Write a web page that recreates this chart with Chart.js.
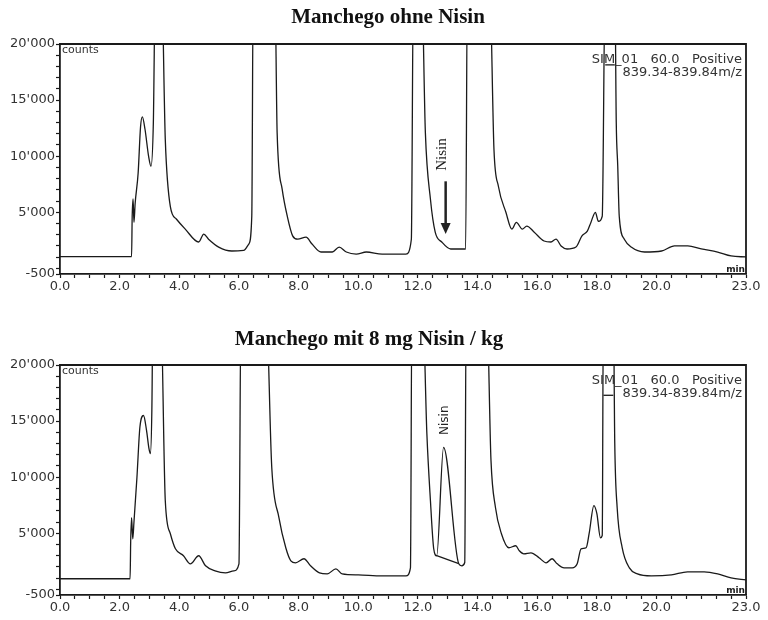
<!DOCTYPE html>
<html>
<head>
<meta charset="utf-8">
<script src="https://cdn.jsdelivr.net/npm/chart.js@4.4.1/dist/chart.umd.min.js"></script>
<style>
  body { margin: 0; background: #fff; width: 768px; height: 620px; position: relative; overflow: hidden; }
  canvas { position: absolute; left: 0; }
  #ohne { top: 0; }
  #mit { top: 321px; }
  .title { position: absolute; left: 0; font: bold 21px "Liberation Serif", serif; color: #111; text-align: center; white-space: nowrap; }
</style>
</head>
<body>
<canvas id="ohne" width="768" height="300"></canvas>
<canvas id="mit" width="768" height="300"></canvas>
<div class="title" style="width:776px;top:4px">Manchego ohne Nisin</div>
<div class="title" style="width:738px;top:326px">Manchego mit 8 mg Nisin / kg</div>
<script>
  // axes
  const xTickValues = [0, 2, 4, 6, 8, 10, 12, 14, 16, 18, 20, 23];
  const yTickValues = [-500, 5000, 10000, 15000, 20000];
  const yTickLabels = ['-500', "5'000", "10'000", "15'000", "20'000"];

  // Manchego ohne Nisin (time in min, counts); off-scale peaks noted as 26000
  const ohneTime = [0, 2.40, 2.42, 2.45, 2.48, 2.52, 2.62, 2.70, 2.76, 2.85, 2.97, 3.05, 3.13, 3.20, 3.40, 3.53, 3.70, 3.90, 4.20, 4.65,
    4.82, 4.98, 5.32, 5.76, 6.16, 6.33, 6.43, 6.48, 7.20, 7.28, 7.45, 7.62, 7.80, 7.97, 8.25, 8.45, 8.75, 9.13, 9.36, 9.60,
    9.93, 10.27, 10.80, 11.60, 11.78, 11.85, 12.12, 12.25, 12.42, 12.58, 12.80, 13.10, 13.60, 13.66, 14.40, 14.55, 14.70, 14.95, 15.15, 15.30,
    15.50, 15.65, 15.90, 16.23, 16.46, 16.63, 16.80, 17.00, 17.30, 17.50, 17.68, 17.80, 17.95, 18.05, 18.18, 18.28, 18.60, 18.65, 18.70, 18.75,
    18.92, 19.15, 19.60, 20.17, 20.60, 21.05, 21.50, 22.05, 22.50, 23.00];
  const ohneCounts = [1050, 1050, 4600, 6200, 4100, 5800, 8500, 12600, 13500, 12400, 10000, 9100, 13000, 26000, 26000, 11500, 5500, 4400, 3500, 2350,
    3050, 2600, 1900, 1550, 1600, 2170, 4650, 26000, 26000, 12100, 7050, 4650, 2900, 2600, 2780, 2170, 1460, 1460, 1900, 1460,
    1280, 1460, 1280, 1280, 2600, 26000, 26000, 12100, 6160, 3230, 2350, 1730, 1730, 26000, 26000, 10600, 7300, 5000, 3500, 4100,
    3500, 3770, 3230, 2440, 2350, 2610, 2000, 1730, 1900, 2900, 3320, 4100, 5000, 4200, 4650, 26000, 26000, 13000, 9100, 4650,
    2600, 1900, 1460, 1550, 2000, 2000, 1730, 1460, 1110, 1020];
  const ohneBoxTime = [18.28, 18.60];
  const ohneBoxCounts = [18140, 18140];

  // Manchego mit 8 mg Nisin / kg
  const mitTime = [0, 2.35, 2.37, 2.40, 2.44, 2.48, 2.58, 2.68, 2.80, 2.90, 2.98, 3.03, 3.08, 3.12, 3.37, 3.53, 3.70, 3.87, 4.14, 4.37,
    4.65, 4.88, 5.20, 5.55, 5.83, 6.00, 6.07, 6.90, 7.10, 7.34, 7.57, 7.74, 7.90, 8.18, 8.40, 8.70, 8.96, 9.25, 9.46, 10.00,
    10.80, 11.60, 11.75, 11.80, 12.15, 12.30, 12.42, 12.53, 12.63, 12.86, 13.37, 13.47, 13.57, 13.62, 14.30, 14.45, 14.60, 14.80, 15.05, 15.28,
    15.40, 15.55, 15.79, 16.06, 16.30, 16.50, 16.67, 16.90, 17.17, 17.34, 17.47, 17.64, 17.74, 17.90, 18.00, 18.12, 18.18, 18.22, 18.55, 18.60,
    18.68, 18.85, 19.09, 19.36, 19.83, 20.50, 21.04, 21.60, 22.05, 22.50, 23.00];
  const mitCounts = [950, 950, 4300, 6400, 4500, 6000, 10000, 14500, 15500, 14200, 12600, 12100, 16000, 26000, 26000, 7900, 4960, 3620, 3000, 2280,
    3000, 2100, 1650, 1470, 1650, 2280, 26000, 26000, 10870, 6400, 3710, 2550, 2370, 2730, 2100, 1470, 1380, 1830, 1380, 1290,
    1200, 1200, 1920, 26000, 26000, 13900, 7900, 3620, 3000, 12660, 2280, 2100, 2400, 26000, 26000, 11500, 7300, 4960, 3710, 3890,
    3440, 3170, 3260, 2820, 2370, 2730, 2280, 1920, 1920, 2280, 3620, 3710, 4960, 7470, 6750, 4600, 4800, 26000, 26000, 13000,
    7300, 3710, 1920, 1380, 1200, 1290, 1560, 1560, 1380, 1020, 850];
  const mitBoxTime = [18.22, 18.55];
  const mitBoxCounts = [17300, 17300];
  const mitBaselineTime = [12.63, 13.37];
  const mitBaselineCounts = [3000, 2300];

  // annotation anchors (time, counts)
  const ohneNisinLabel = [12.80, 10150];
  const ohneNisinArrow = [12.93, 7760, 3060];
  const mitNisinLabel = [12.90, 15080];

  const ink = '#1a1a1a';
  const tickFont = { family: 'DejaVu Sans', size: 13 };

  function pairs(xs, ys) {
    return xs.map((x, i) => ({ x, y: ys[i] }));
  }

  const framePlugin = {
    id: 'frame',
    afterDraw(chart, args, opts) {
      const { ctx, chartArea: a, scales } = chart;
      const sx = scales.x, sy = scales.y;
      ctx.save();
      ctx.strokeStyle = ink;
      ctx.lineWidth = 1.8;
      ctx.beginPath();
      ctx.moveTo(a.left, a.top);
      ctx.lineTo(a.right, a.top);
      ctx.lineTo(a.right, a.bottom);
      ctx.stroke();

      ctx.fillStyle = '#333';
      ctx.textBaseline = 'middle';
      ctx.font = '11px "DejaVu Sans"';
      ctx.textAlign = 'left';
      ctx.fillText('counts', a.left + 2, a.top + 6);
      ctx.font = '13px "DejaVu Sans"';
      ctx.textAlign = 'right';
      ctx.fillText('SIM_01   60.0   Positive', a.right - 4, a.top + 16);
      ctx.fillText('839.34-839.84m/z', a.right - 4, a.top + 29);
      ctx.font = 'bold 9px "DejaVu Sans"';
      ctx.fillStyle = ink;
      ctx.fillText('min', a.right - 1, a.bottom - 4);

      const lab = opts.label;
      if (lab) {
        ctx.save();
        ctx.translate(sx.getPixelForValue(lab.at[0]), sy.getPixelForValue(lab.at[1]));
        ctx.rotate(-Math.PI / 2);
        ctx.font = lab.font;
        ctx.fillStyle = '#222';
        ctx.textAlign = 'center';
        ctx.fillText('Nisin', 0, 0);
        ctx.restore();
      }
      const arr = opts.arrow;
      if (arr) {
        const px = sx.getPixelForValue(arr[0]);
        const y0 = sy.getPixelForValue(arr[1]);
        const y1 = sy.getPixelForValue(arr[2]);
        ctx.strokeStyle = '#222';
        ctx.lineWidth = 2.5;
        ctx.beginPath();
        ctx.moveTo(px, y0);
        ctx.lineTo(px, y1 - 9);
        ctx.stroke();
        ctx.fillStyle = '#222';
        ctx.beginPath();
        ctx.moveTo(px - 5, y1 - 11);
        ctx.lineTo(px + 5, y1 - 11);
        ctx.lineTo(px, y1);
        ctx.closePath();
        ctx.fill();
      }
      ctx.restore();
    }
  };

  function makeChart(id, datasets, frameOpts) {
    return new Chart(document.getElementById(id), {
      type: 'line',
      data: { datasets },
      plugins: [framePlugin],
      options: {
        responsive: false,
        animation: false,
        layout: { padding: { top: 44, right: 22, left: 0, bottom: 0 } },
        elements: { point: { radius: 0 } },
        plugins: {
          legend: { display: false },
          tooltip: { enabled: false },
          frame: frameOpts,
        },
        scales: {
          x: {
            type: 'linear',
            min: 0,
            max: 23,
            afterBuildTicks: (scale) => {
              const t = [];
              for (let v = 0; v <= 23; v += 0.5) t.push({ value: v });
              scale.ticks = t;
            },
            afterFit: (scale) => { scale.height = 26; },
            ticks: {
              autoSkip: false,
              maxRotation: 0,
              padding: 1,
              color: '#333',
              font: tickFont,
              callback: (v) => (xTickValues.includes(v) ? v.toFixed(1) : ''),
            },
            grid: { drawOnChartArea: false, tickLength: 4, tickColor: ink, tickWidth: 1.2 },
            border: { display: true, color: ink, width: 1.8 },
          },
          y: {
            type: 'linear',
            min: -500,
            max: 20000,
            afterBuildTicks: (scale) => {
              const t = [{ value: -500 }];
              for (let v = 0; v <= 20000; v += 1000) t.push({ value: v });
              scale.ticks = t;
            },
            afterFit: (scale) => { scale.width = 60; },
            ticks: {
              autoSkip: false,
              padding: 1,
              color: '#333',
              font: tickFont,
              callback: (v) => {
                const i = yTickValues.indexOf(v);
                return i >= 0 ? yTickLabels[i] : '';
              },
            },
            grid: { drawOnChartArea: false, tickLength: 4, tickColor: ink, tickWidth: 1.2 },
            border: { display: true, color: ink, width: 1.8 },
          },
        },
      },
    });
  }

  const trace = { borderColor: ink, borderWidth: 1.3, cubicInterpolationMode: 'monotone', fill: false };
  const straight = { borderColor: ink, borderWidth: 1.3, tension: 0, fill: false };

  makeChart('ohne', [
    { ...trace, data: pairs(ohneTime, ohneCounts) },
    { ...straight, data: pairs(ohneBoxTime, ohneBoxCounts) },
  ], {
    label: { at: ohneNisinLabel, font: '15px "Liberation Serif"' },
    arrow: ohneNisinArrow,
  });

  makeChart('mit', [
    { ...trace, data: pairs(mitTime, mitCounts) },
    { ...straight, data: pairs(mitBoxTime, mitBoxCounts) },
    { ...straight, data: pairs(mitBaselineTime, mitBaselineCounts) },
  ], {
    label: { at: mitNisinLabel, font: '12px "DejaVu Sans"' },
  });
</script>
</body>
</html>
